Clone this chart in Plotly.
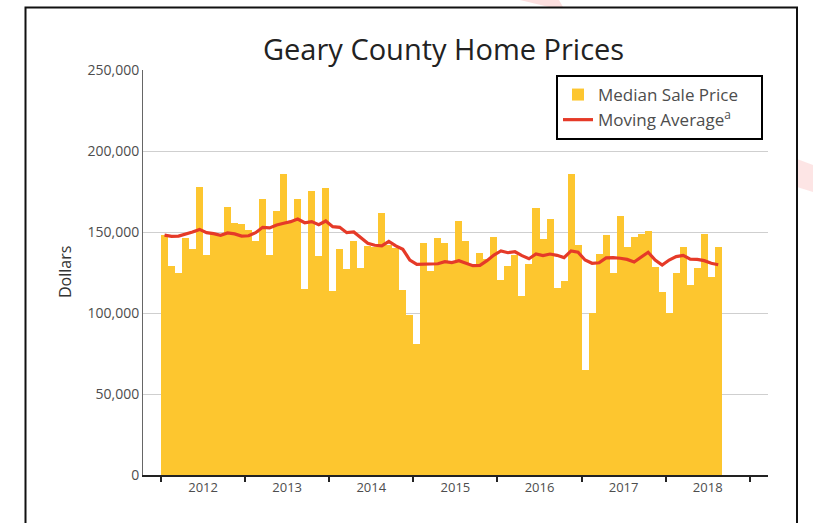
import plotly.graph_objects as go

# ---------------- data ----------------
year_labels = ["2012", "2013", "2014", "2015", "2016", "2017", "2018"]

# monthly median sale price, Jan 2012 .. Aug 2018
median_price = [
    148000, 129000, 125000, 146500, 139500, 178000, 135500, 149500, 148000, 165500, 155500, 155000,
    151000, 144500, 170500, 136000, 163000, 185500, 156000, 170500, 115000, 175500, 135000, 177000,
    113500, 139500, 127000, 144500, 128000, 141500, 141000, 162000, 142000, 140000, 114000, 98500,
    81000, 143000, 126000, 146500, 143000, 131500, 157000, 144500, 129000, 137000, 133500, 147000,
    120500, 129000, 135500, 110500, 130500, 165000, 145500, 158000, 115500, 119500, 185500, 142000,
    65000, 100000, 136500, 148000, 125000, 160000, 140500, 147000, 149000, 150500, 128500, 113000,
    100000, 124500, 140500, 117500, 128000, 149000, 122500, 140500,
]

moving_average = [
    148100, 147300, 147500, 148600, 150000, 151600, 149600, 149000, 148000, 149400, 148800, 147500,
    147700, 149600, 152900, 152500, 154300, 155400, 156400, 158000, 155700, 156400, 154500, 156800,
    153300, 152900, 149600, 150000, 146700, 143000, 141800, 141400, 144200, 141400, 139300, 132700,
    130000, 130200, 130200, 130400, 131700, 131100, 132300, 130700, 129200, 129400, 132300, 135800,
    138300, 137200, 137800, 135400, 133500, 136400, 135400, 136400, 135600, 134200, 138300, 137500,
    132700, 130700, 131000, 134000, 134200, 133800, 133100, 131500, 134800, 137500, 132700, 129600,
    132700, 134800, 135600, 133300, 133100, 132300, 130700, 129800,
]

# ---------------- figure ----------------
months = list(range(len(median_price)))          # month index, 0 = Jan 2012
n_years = len(year_labels)
year_mid = [12 * i + 5.5 for i in range(n_years)]
year_edges = [12 * i - 0.5 for i in range(n_years + 1)]
x_range = [-3.07, 86.1]

FONT = "Open Sans"
TXT = "#4d4d4d"
PAD = "\u00a0" * 4   # widens the legend box a little

fig = go.Figure()
fig.add_trace(go.Bar(
    x=months, y=median_price, width=1,
    marker=dict(color="#FDC62F", line=dict(width=0)),
    name="Median Sale Price" + PAD,
))
fig.add_trace(go.Scatter(
    x=months, y=moving_average, mode="lines",
    line=dict(color="#E53A28", width=3.2),
    name="Moving Average<sup>a</sup>",
))

def px_x(p):
    return (p - 143) / 625.0

def px_y(p):
    return (475 - p) / 405.0

shapes = [
    # decorative faint red strokes behind the frame
    dict(type="path", xref="paper", yref="paper", layer="below",
         path=f"M{px_x(520)},{px_y(0)} L{px_x(559)},{px_y(0)} L{px_x(563)},{px_y(7)} L{px_x(549)},{px_y(7)} Z",
         fillcolor="rgba(240,80,80,0.18)", line=dict(width=0)),
    dict(type="path", xref="paper", yref="paper", layer="below",
         path=f"M{px_x(797)},{px_y(159)} L{px_x(813)},{px_y(165)} L{px_x(813)},{px_y(192)} L{px_x(797)},{px_y(187)} Z",
         fillcolor="rgba(240,80,80,0.15)", line=dict(width=0)),
    # outer frame
    dict(type="path", xref="paper", yref="paper",
         path=f"M{px_x(25.5)},{px_y(540)} L{px_x(25.5)},{px_y(7.5)} L{px_x(797)},{px_y(7.5)} L{px_x(797)},{px_y(540)}",
         line=dict(color="#111", width=2)),
]

fig.update_layout(
    width=813, height=523,
    margin=dict(l=143, r=45, t=70, b=48),
    paper_bgcolor="white", plot_bgcolor="white",
    font=dict(family=FONT, color=TXT, size=13),
    bargap=0,
    showlegend=True,
    legend=dict(
        x=px_x(556), y=px_y(75), xanchor="left", yanchor="top",
        bordercolor="#000", borderwidth=2, bgcolor="white",
        font=dict(family=FONT, size=17, color=TXT),
        tracegroupgap=0, itemwidth=30,
    ),
    shapes=shapes,
    annotations=[
        dict(text="Geary County Home Prices", xref="paper", yref="paper",
             x=px_x(443), y=px_y(48), xanchor="center", yanchor="middle",
             showarrow=False, font=dict(family=FONT, size=29, color="#222")),
        dict(text="Dollars", xref="paper", yref="paper",
             x=px_x(65), y=px_y(272), xanchor="center", yanchor="middle",
             textangle=-90, showarrow=False, font=dict(family=FONT, size=16, color="#333")),
    ],
    xaxis=dict(
        range=x_range, tickmode="array", tickvals=year_mid, ticktext=year_labels,
        ticks="", showgrid=False, zeroline=False,
        showline=True, linecolor="#222", linewidth=1.5,
        tickfont=dict(family=FONT, size=13, color=TXT),
        minor=dict(tickmode="array", tickvals=year_edges, ticks="outside",
                   ticklen=5, tickwidth=1.5, tickcolor="#222", showgrid=False),
        fixedrange=True,
    ),
    xaxis2=dict(
        overlaying="x", anchor="y", side="bottom",
        range=x_range, tickmode="array", tickvals=year_edges,
        ticks="inside", ticklen=5, tickwidth=1.5, tickcolor="#222",
        showticklabels=False, showgrid=False, zeroline=False, showline=False,
    ),
    yaxis=dict(
        range=[0, 250000], dtick=50000, tickformat=",",
        showgrid=True, gridcolor="#cfcfcf", gridwidth=1,
        zeroline=False, showline=True, linecolor="#666", linewidth=1,
        ticks="",
        tickfont=dict(family=FONT, size=14, color=TXT),
    ),
)

fig.write_html(
    "out.html",
    config={"displayModeBar": False},
    post_script="document.body.style.margin='0';document.body.style.overflow='hidden';",
)
